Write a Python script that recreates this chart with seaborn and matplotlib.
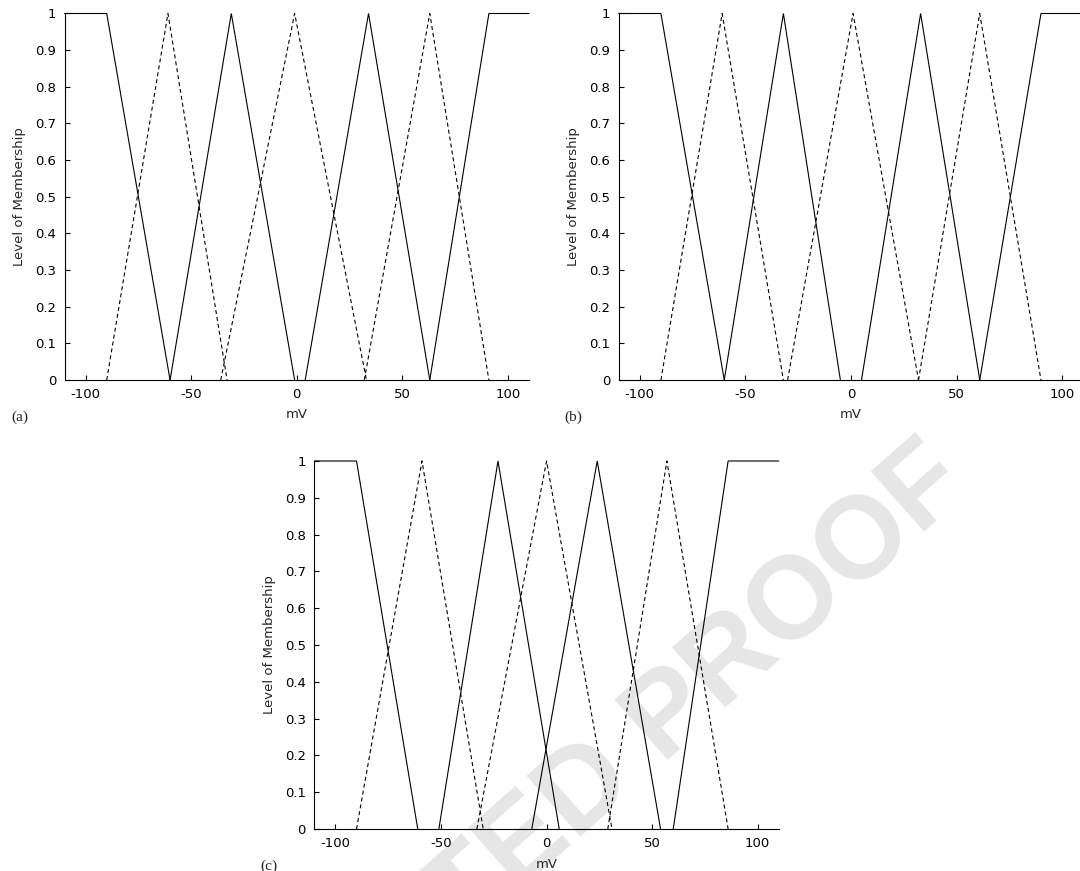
import matplotlib
matplotlib.use("Agg")
import matplotlib.pyplot as plt
import pandas as pd
import seaborn as sns

# ---------------- data (breakpoints, mV) ----------------
# Panel (a)
A_SOLID_X = [[-110, -90, -60], [-60, -31, -1], [4, 34, 63], [63, 91, 110]]
A_SOLID_Y = [[1, 1, 0], [0, 1, 0], [0, 1, 0], [0, 1, 1]]
A_DASH_X = [[-90, -61, -33], [-36, -1, 33], [32, 63, 91]]
A_DASH_Y = [[0, 1, 0], [0, 1, 0], [0, 1, 0]]

# Panel (b)
B_SOLID_X = [[-110, -90, -60], [-60, -32, -5], [5, 33, 61], [61, 90, 110]]
B_SOLID_Y = [[1, 1, 0], [0, 1, 0], [0, 1, 0], [0, 1, 1]]
B_DASH_X = [[-90, -61, -32], [-30, 1, 32], [32, 61, 90]]
B_DASH_Y = [[0, 1, 0], [0, 1, 0], [0, 1, 0]]

# Panel (c)
C_SOLID_X = [[-110, -90, -61], [-51, -23, 6], [-7, 24, 54], [60, 86, 110]]
C_SOLID_Y = [[1, 1, 0], [0, 1, 0], [0, 1, 0], [0, 1, 1]]
C_DASH_X = [[-90, -59, -30], [-33, 0, 31], [29, 57, 86]]
C_DASH_Y = [[0, 1, 0], [0, 1, 0], [0, 1, 0]]

X_TICKS = [-100, -50, 0, 50, 100]
Y_TICKS = [0, 0.1, 0.2, 0.3, 0.4, 0.5, 0.6, 0.7, 0.8, 0.9, 1]
Y_TICKLABELS = ["0", "0.1", "0.2", "0.3", "0.4", "0.5", "0.6", "0.7", "0.8", "0.9", "1"]
PANEL_LABELS = ["(a)", "(b)", "(c)"]
X_LABEL = "mV"
Y_LABEL = "Level of Membership"
WATERMARK = "UNCORRECTED PROOF"


def build_frame(solid_x, solid_y, dash_x, dash_y):
    rows = []
    for i, (xs, ys) in enumerate(zip(solid_x, solid_y)):
        for x, y in zip(xs, ys):
            rows.append({"mV": x, "mu": y, "curve": f"s{i}", "kind": "solid"})
    for i, (xs, ys) in enumerate(zip(dash_x, dash_y)):
        for x, y in zip(xs, ys):
            rows.append({"mV": x, "mu": y, "curve": f"d{i}", "kind": "dashed"})
    return pd.DataFrame(rows)


frames = [
    build_frame(A_SOLID_X, A_SOLID_Y, A_DASH_X, A_DASH_Y),
    build_frame(B_SOLID_X, B_SOLID_Y, B_DASH_X, B_DASH_Y),
    build_frame(C_SOLID_X, C_SOLID_Y, C_DASH_X, C_DASH_Y),
]

# ---------------- style ----------------
sns.set_style("ticks")
plt.rcParams["font.family"] = ["DejaVu Sans"]
plt.rcParams["axes.linewidth"] = 0.8

W, H = 1080, 871
fig = plt.figure(figsize=(W / 100, H / 100), dpi=100)

# axes rectangles in pixels: (left, top, right, bottom)
rects_px = [
    (64.5, 13.5, 529.0, 380.0),
    (618.7, 13.5, 1083.2, 380.0),
    (314.3, 461.0, 778.8, 829.0),
]

# watermark behind everything
fig.text(973 / W, 1 - 490 / H, WATERMARK, rotation=41.5, rotation_mode="anchor",
         ha="right", va="baseline", fontsize=84, fontweight="bold",
         family=["Liberation Sans", "DejaVu Sans"], color="#e6e6e6", zorder=-5)

for k, (df, (l, t, r, b)) in enumerate(zip(frames, rects_px)):
    ax = fig.add_axes([l / W, 1 - b / H, (r - l) / W, (b - t) / H])
    ax.patch.set_alpha(0)
    sns.lineplot(data=df, x="mV", y="mu", units="curve", style="kind",
                 style_order=["solid", "dashed"],
                 dashes={"solid": "", "dashed": (3.6, 2.7)},
                 estimator=None, sort=False, color="black", linewidth=0.8,
                 legend=False, ax=ax)
    for ln in ax.lines:
        ln.set_clip_on(False)
        ln.set_solid_joinstyle("miter")
    ax.set_xlim(-110, 110)
    ax.set_ylim(0, 1)
    ax.set_xticks(X_TICKS)
    ax.set_xticklabels([str(v) for v in X_TICKS])
    ax.set_yticks(Y_TICKS)
    ax.set_yticklabels(Y_TICKLABELS)
    ax.tick_params(direction="in", length=3.5, width=0.8, labelsize=9.5,
                   pad=6, colors="black")
    sns.despine(ax=ax)
    ax.spines["left"].set_color("black")
    ax.spines["bottom"].set_color("black")

    axw = r - l
    axh = b - t
    ax.set_xlabel(X_LABEL, fontsize=9.5)
    ax.xaxis.set_label_coords(0.5, -35 / axh)
    ax.xaxis.label.set_verticalalignment("center")
    ax.set_ylabel(Y_LABEL, fontsize=9.5)
    ax.yaxis.set_label_coords(-45 / axw, 0.5)
    ax.yaxis.label.set_verticalalignment("center")

    fig.text((l - 45) / W, 1 - (b + 37) / H, PANEL_LABELS[k], ha="center",
             va="center", fontsize=11, family=["Liberation Serif", "DejaVu Serif"])

fig.savefig("out.png", dpi=100, facecolor="white")
